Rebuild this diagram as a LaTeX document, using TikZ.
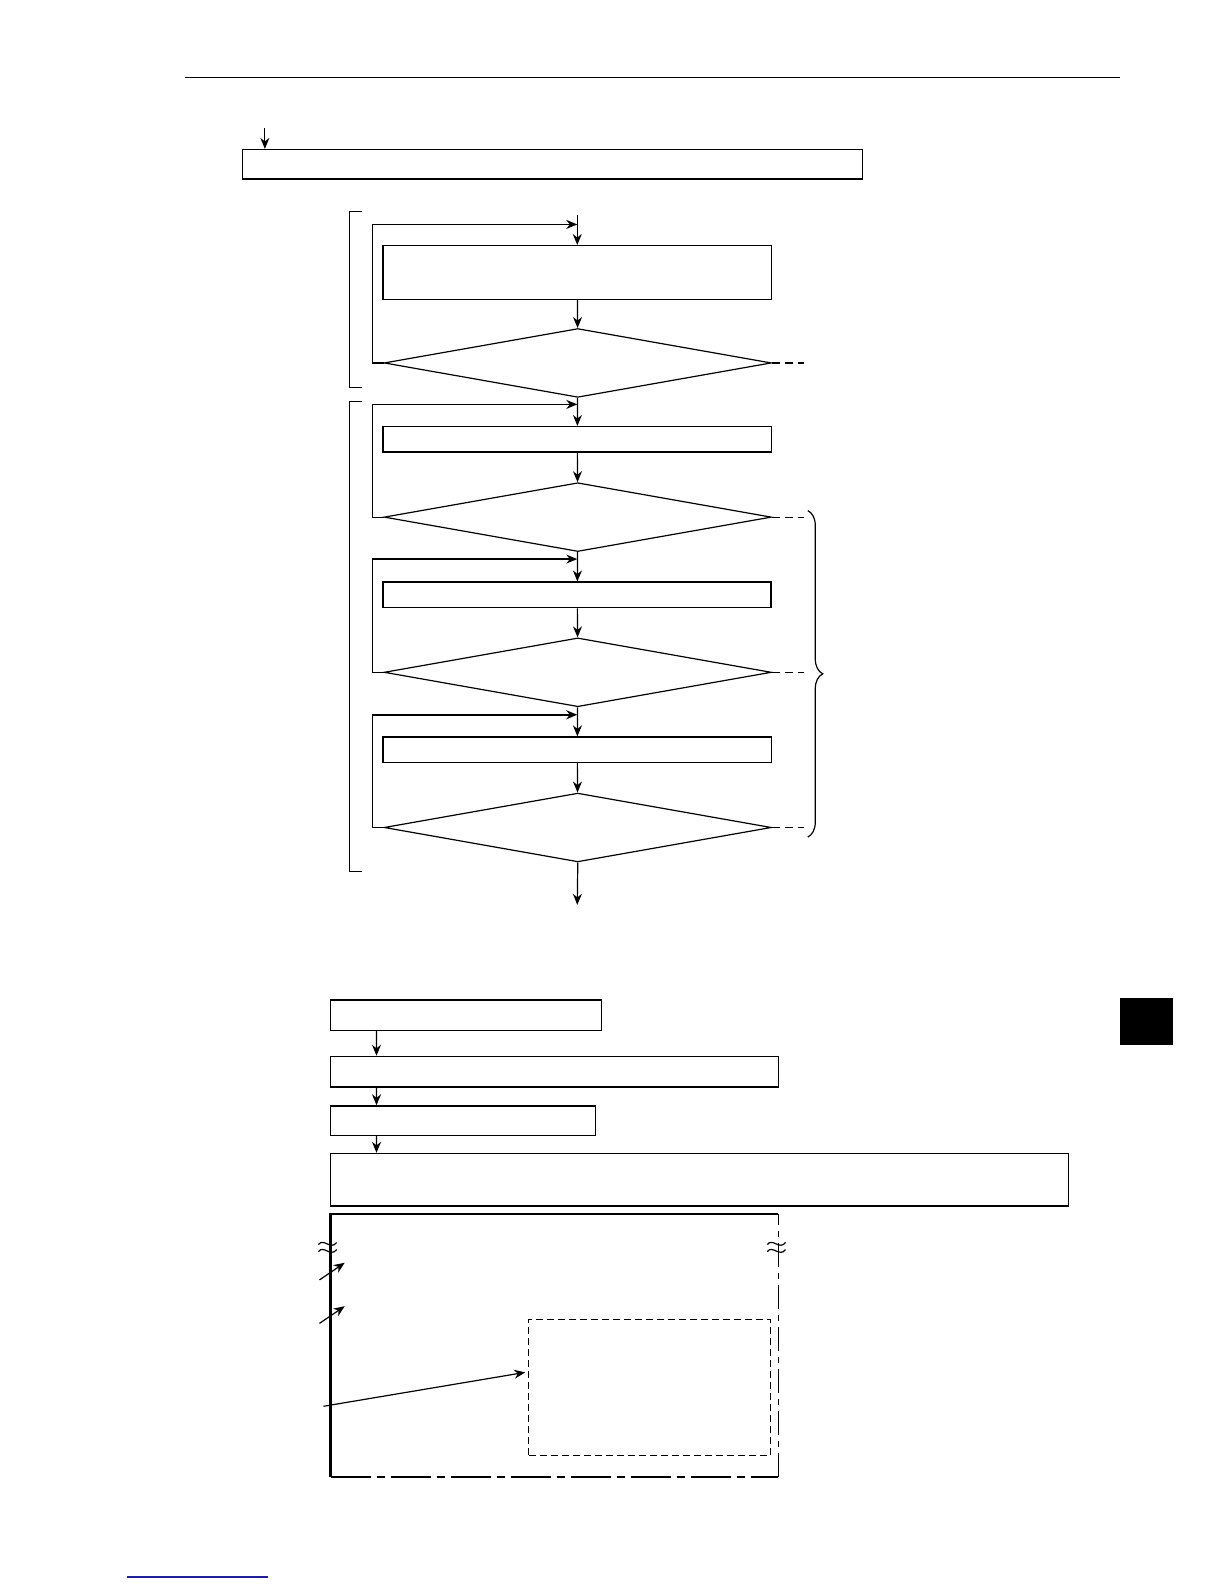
\documentclass[tikz,border=0pt]{standalone}
\usetikzlibrary{arrows.meta,shapes.geometric,decorations.pathreplacing}
\definecolor{linkblue}{RGB}{30,30,150}
\tikzset{
  box/.style={draw,rectangle,inner sep=0pt,line width=0.7pt},
  decision/.style={draw,diamond,inner sep=0pt,line width=0.6pt,minimum width=193.6pt,minimum height=34.4pt},
  flow/.style={line width=0.6pt,-{Stealth[length=5.5pt,width=4.5pt]}},
  dashline/.style={line width=0.6pt,dash pattern=on 4pt off 2.5pt},
  marker/.style={line width=0.6pt},
}
\begin{document}
\begin{tikzpicture}[x=0.5055pt,y=-0.5055pt]
  \useasboundingbox (0,0) rectangle (1210.7,1566.8);
  \draw[line width=0.5pt] (183,77) -- (1108,77);

  \coordinate (start) at (262,127);
  \node[box,minimum width=309.9pt,minimum height=14.7pt] (setup) at (546.5,162.5) {};
  \draw[flow] (start) to (setup.north -| start);

  \draw[marker] (358,209) -- (346,209) -- (346,383) -- (358,383);
  \draw[marker] (358,397) -- (346,397) -- (346,862) -- (358,862);

  \coordinate (top1) at (571,213); \coordinate (fb1) at (571,222);
  \node[box,minimum width=194.1pt,minimum height=26.8pt] (procA) at (571,269.5) {};
  \node[decision] (dec1) at (571.5,359) {};
  \coordinate (fb2) at (571,400);
  \node[box,minimum width=194.1pt,minimum height=12.6pt] (procB) at (571,434.5) {};
  \node[decision] (dec2) at (571.5,511.5) {};
  \coordinate (fb3) at (571,553);
  \node[box,minimum width=194.1pt,minimum height=12.6pt,line width=0.9pt] (procC) at (571,588.5) {};
  \node[decision] (dec3) at (571.5,665) {};
  \coordinate (fb4) at (571,707);
  \node[box,minimum width=194.1pt,minimum height=12.6pt] (procD) at (571,741.5) {};
  \node[decision] (dec4) at (571.5,818.5) {};
  \coordinate (exit) at (571,895);

  \draw[flow] (top1) to (procA); \draw[flow] (procA) to (dec1); \draw[flow] (dec1) to (procB);
  \draw[flow] (procB) to (dec2); \draw[flow] (dec2) to (procC); \draw[flow] (procC) to (dec3);
  \draw[flow] (dec3) to (procD); \draw[flow] (procD) to (dec4); \draw[flow] (dec4.south) to (exit);
  \draw[flow] (dec1.west) -- ++(-11,0) |- (fb1); \draw[flow] (dec2.west) -- ++(-11,0) |- (fb2);
  \draw[flow] (dec3.west) -- ++(-11,0) |- (fb3); \draw[flow,line width=0.9pt] (dec4.west) -- ++(-11,0) |- (fb4);
  \draw[dashline] (dec1.east) -- ++(32,0); \draw[dashline] (dec2.east) -- ++(32,0);
  \draw[dashline] (dec3.east) -- ++(32,0); \draw[dashline] (dec4.east) -- ++(32,0);
  \draw[marker,decorate,decoration={brace,amplitude=7.5pt}] (799,505) -- (799,828);

  \node[box,minimum width=135.5pt,minimum height=15.2pt] (stepE) at (461,1004) {};
  \node[box,minimum width=223.9pt,minimum height=15.2pt] (stepF) at (548.5,1060) {};
  \node[box,minimum width=132.4pt,minimum height=14.7pt] (stepG) at (458,1108.5) {};
  \node[box,minimum width=369pt,minimum height=26.3pt] (stepH) at (692,1167) {};
  \draw[flow] ([xshift=23.3pt]stepE.south west) to ([xshift=23.3pt]stepF.north west);
  \draw[flow] ([xshift=23.3pt]stepF.south west) to ([xshift=23.3pt]stepG.north west);
  \draw[flow] ([xshift=23.3pt]stepG.south west) to ([xshift=23.3pt]stepH.north west);

  \coordinate (fnw) at (327,1201); \coordinate (fne) at (770,1201);
  \coordinate (fsw) at (327,1461); \coordinate (fse) at (770,1461);
  \draw[line width=1.2pt] (fne) -- (fnw) -- (fsw);
  \draw[line width=0.7pt,dash pattern=on 20pt off 3pt on 4pt off 3pt] (fsw) -- (fse);
  \draw[line width=0.7pt,dash pattern=on 12pt off 3pt on 3pt off 3pt] (fse) -- (fne);
  \foreach \wx in {324,768} {
    \draw[marker] (\wx-9,1231) .. controls (\wx-4,1224) and (\wx+3,1237) .. (\wx+9,1229);
    \draw[marker] (\wx-9,1238) .. controls (\wx-4,1231) and (\wx+3,1244) .. (\wx+9,1236);
  }
  \node[draw,rectangle,inner sep=0pt,line width=0.6pt,dash pattern=on 3.5pt off 2pt,minimum width=120.8pt,minimum height=68.2pt] (zoomarea) at (642.5,1372.5) {};
  \coordinate (p1) at (316,1266); \coordinate (q1) at (341,1249);
  \coordinate (p2) at (316,1309); \coordinate (q2) at (341,1292);
  \coordinate (p3) at (320,1391);
  \draw[flow] (p1) to (q1); \draw[flow] (p2) to (q2);
  \draw[flow] (p3) to ([xshift=-1.5pt,yshift=7.6pt]zoomarea.west);

  \fill (1108,987) rectangle (1160,1034);
  \draw[linkblue,line width=0.8pt] (126,1560) -- (265,1560);
\end{tikzpicture}
\end{document}
